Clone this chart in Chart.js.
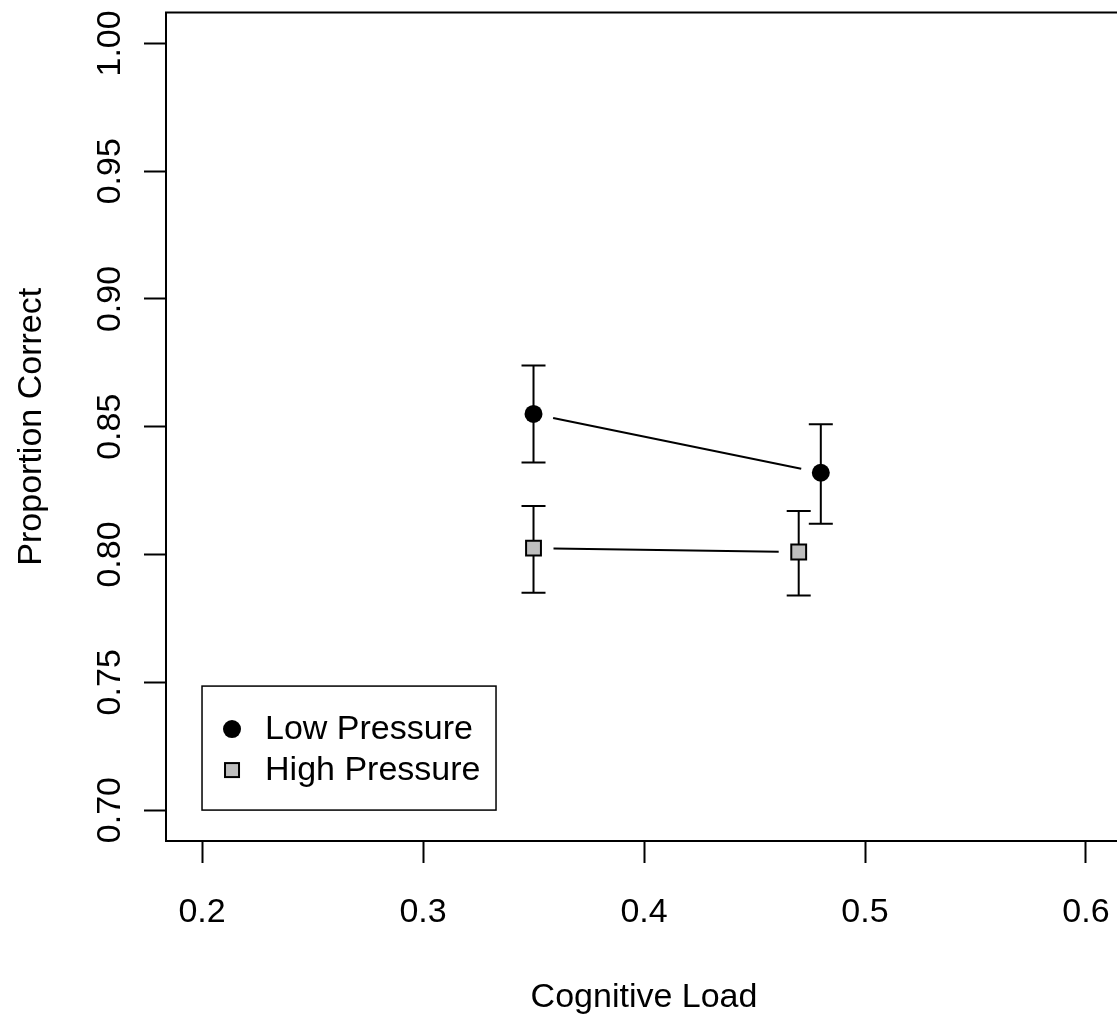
<!DOCTYPE html>
<html>
<head>
<meta charset="utf-8">
<script src="https://cdn.jsdelivr.net/npm/chart.js@4.4.0/dist/chart.umd.min.js"></script>
<style>
    html, body { margin: 0; padding: 0; background: #fff; overflow: hidden; }
    canvas { display: block; }
</style>
</head>
<body>
<canvas id="loadChart" width="1122" height="1020"></canvas>
<script>
// ---- data ----
const seriesNames = ['Low Pressure', 'High Pressure'];
const lowLoad = [0.35, 0.48];
const lowMean = [0.855, 0.832];
const lowUpper = [0.874, 0.851];
const lowLower = [0.836, 0.812];
const highLoad = [0.35, 0.47];
const highMean = [0.8025, 0.801];
const highUpper = [0.819, 0.817];
const highLower = [0.785, 0.784];
const xTicks = [0.2, 0.3, 0.4, 0.5, 0.6];
const yTicks = [0.70, 0.75, 0.80, 0.85, 0.90, 0.95, 1.00];

const FONT = 'Arial, "Liberation Sans", sans-serif';
const PLOT_RIGHT = 1122; // where R's plot box ends (just past the window)

function toPoints(xs, ys) {
    return xs.map((x, i) => ({ x: x, y: ys[i] }));
}

// error bars, connecting segments (with a gap at the markers), box, rotated y labels, legend
const extras = {
    id: 'extras',
    beforeDatasetsDraw(chart) {
        const ctx = chart.ctx;
        const xs = chart.scales.x, ys = chart.scales.y;
        const area = chart.chartArea;
        ctx.save();
        ctx.strokeStyle = '#000';
        ctx.lineWidth = 2;

        // box (right side sits just outside the window)
        ctx.strokeRect(area.left, area.top, area.right - area.left, area.bottom - area.top);

        // connecting lines
        const gap = 20;
        [[lowLoad, lowMean], [highLoad, highMean]].forEach(([lx, ly]) => {
            for (let i = 0; i < lx.length - 1; i++) {
                const x1 = xs.getPixelForValue(lx[i]), y1 = ys.getPixelForValue(ly[i]);
                const x2 = xs.getPixelForValue(lx[i + 1]), y2 = ys.getPixelForValue(ly[i + 1]);
                const d = Math.hypot(x2 - x1, y2 - y1);
                const ux = (x2 - x1) / d, uy = (y2 - y1) / d;
                ctx.beginPath();
                ctx.moveTo(x1 + ux * gap, y1 + uy * gap);
                ctx.lineTo(x2 - ux * gap, y2 - uy * gap);
                ctx.stroke();
            }
        });

        // error bars
        const cap = 12;
        [[lowLoad, lowUpper, lowLower], [highLoad, highUpper, highLower]].forEach(([lx, up, lo]) => {
            lx.forEach((x, i) => {
                const px = xs.getPixelForValue(x);
                const pu = ys.getPixelForValue(up[i]);
                const pl = ys.getPixelForValue(lo[i]);
                ctx.beginPath();
                ctx.moveTo(px, pu); ctx.lineTo(px, pl);
                ctx.moveTo(px - cap, pu); ctx.lineTo(px + cap, pu);
                ctx.moveTo(px - cap, pl); ctx.lineTo(px + cap, pl);
                ctx.stroke();
            });
        });

        // y tick labels, rotated like base R
        ctx.fillStyle = '#000';
        ctx.font = '34px ' + FONT;
        ctx.textAlign = 'center';
        ctx.textBaseline = 'middle';
        ys.ticks.forEach(t => {
            const py = ys.getPixelForValue(t.value);
            ctx.save();
            ctx.translate(111, py);
            ctx.rotate(-Math.PI / 2);
            ctx.fillText(t.value.toFixed(2), 0, 0);
            ctx.restore();
        });
        ctx.restore();
    },
    afterDatasetsDraw(chart) {
        const ctx = chart.ctx;
        const xs = chart.scales.x, ys = chart.scales.y;
        ctx.save();
        // legend anchored at (0.2, 0.70)
        const left = xs.getPixelForValue(xTicks[0]);
        const bottom = ys.getPixelForValue(yTicks[0]);
        const w = 294, h = 124;
        const top = bottom - h;
        ctx.fillStyle = '#fff';
        ctx.fillRect(left, top, w, h);
        ctx.strokeStyle = '#000';
        ctx.lineWidth = 1.5;
        ctx.strokeRect(left, top, w, h);

        const rows = [top + 43, top + 84];
        // circle
        ctx.fillStyle = '#000';
        ctx.beginPath();
        ctx.arc(left + 30, rows[0], 9, 0, Math.PI * 2);
        ctx.fill();
        // square
        ctx.fillStyle = '#BEBEBE';
        ctx.fillRect(left + 23, rows[1] - 7, 14, 14);
        ctx.lineWidth = 2;
        ctx.strokeRect(left + 23, rows[1] - 7, 14, 14);

        ctx.fillStyle = '#000';
        ctx.font = '34px ' + FONT;
        ctx.textAlign = 'left';
        ctx.textBaseline = 'middle';
        seriesNames.forEach((n, i) => ctx.fillText(n, left + 63, rows[i] + 1));
        ctx.restore();
    }
};

const chart = new Chart(document.getElementById('loadChart').getContext('2d'), {
    type: 'scatter',
    data: {
        datasets: [{
            label: seriesNames[0],
            data: toPoints(lowLoad, lowMean),
            pointStyle: 'circle',
            pointRadius: 9,
            backgroundColor: '#000',
            borderColor: '#000',
            borderWidth: 0
        }, {
            label: seriesNames[1],
            data: toPoints(highLoad, highMean),
            pointStyle: 'rect',
            pointRadius: 10.5,
            backgroundColor: '#BEBEBE',
            borderColor: '#000',
            borderWidth: 2
        }]
    },
    options: {
        responsive: false,
        maintainAspectRatio: false,
        animation: false,
        events: [],
        layout: { padding: 0 },
        plugins: {
            legend: { display: false },
            tooltip: { enabled: false }
        },
        scales: {
            x: {
                type: 'linear',
                min: 0.1837,
                max: 0.6163,
                afterBuildTicks: s => { s.ticks = xTicks.map(v => ({ value: v })); },
                afterFit: s => { s.height = 179; },
                grid: { drawOnChartArea: false, tickLength: 22, tickWidth: 2, color: '#000' },
                border: { display: false },
                ticks: {
                    color: '#000',
                    font: { family: FONT, size: 34 },
                    padding: 29,
                    maxRotation: 0,
                    callback: v => v.toFixed(1)
                },
                title: {
                    display: true,
                    text: 'Cognitive Load',
                    color: '#000',
                    font: { family: FONT, size: 34 },
                    padding: { top: 0, bottom: 2 }
                }
            },
            y: {
                type: 'linear',
                min: 0.6879,
                max: 1.0121,
                afterBuildTicks: s => { s.ticks = yTicks.map(v => ({ value: v })); },
                afterFit: s => { s.width = 166; },
                grid: { drawOnChartArea: false, tickLength: 22, tickWidth: 2, color: '#000' },
                border: { display: false },
                ticks: { display: false },
                title: {
                    display: true,
                    text: 'Proportion Correct',
                    color: '#000',
                    font: { family: FONT, size: 34 },
                    padding: { top: 11, bottom: 0 }
                }
            }
        }
    },
    plugins: [extras]
});

// Chart.js keeps room on the right for the last label; widen the canvas so the box edge lands off-page
for (let i = 0; i < 3; i++) {
    const spare = PLOT_RIGHT - chart.chartArea.right;
    if (Math.abs(spare) < 0.5) break;
    chart.resize(chart.width + spare, 1020);
}
</script>
</body>
</html>
